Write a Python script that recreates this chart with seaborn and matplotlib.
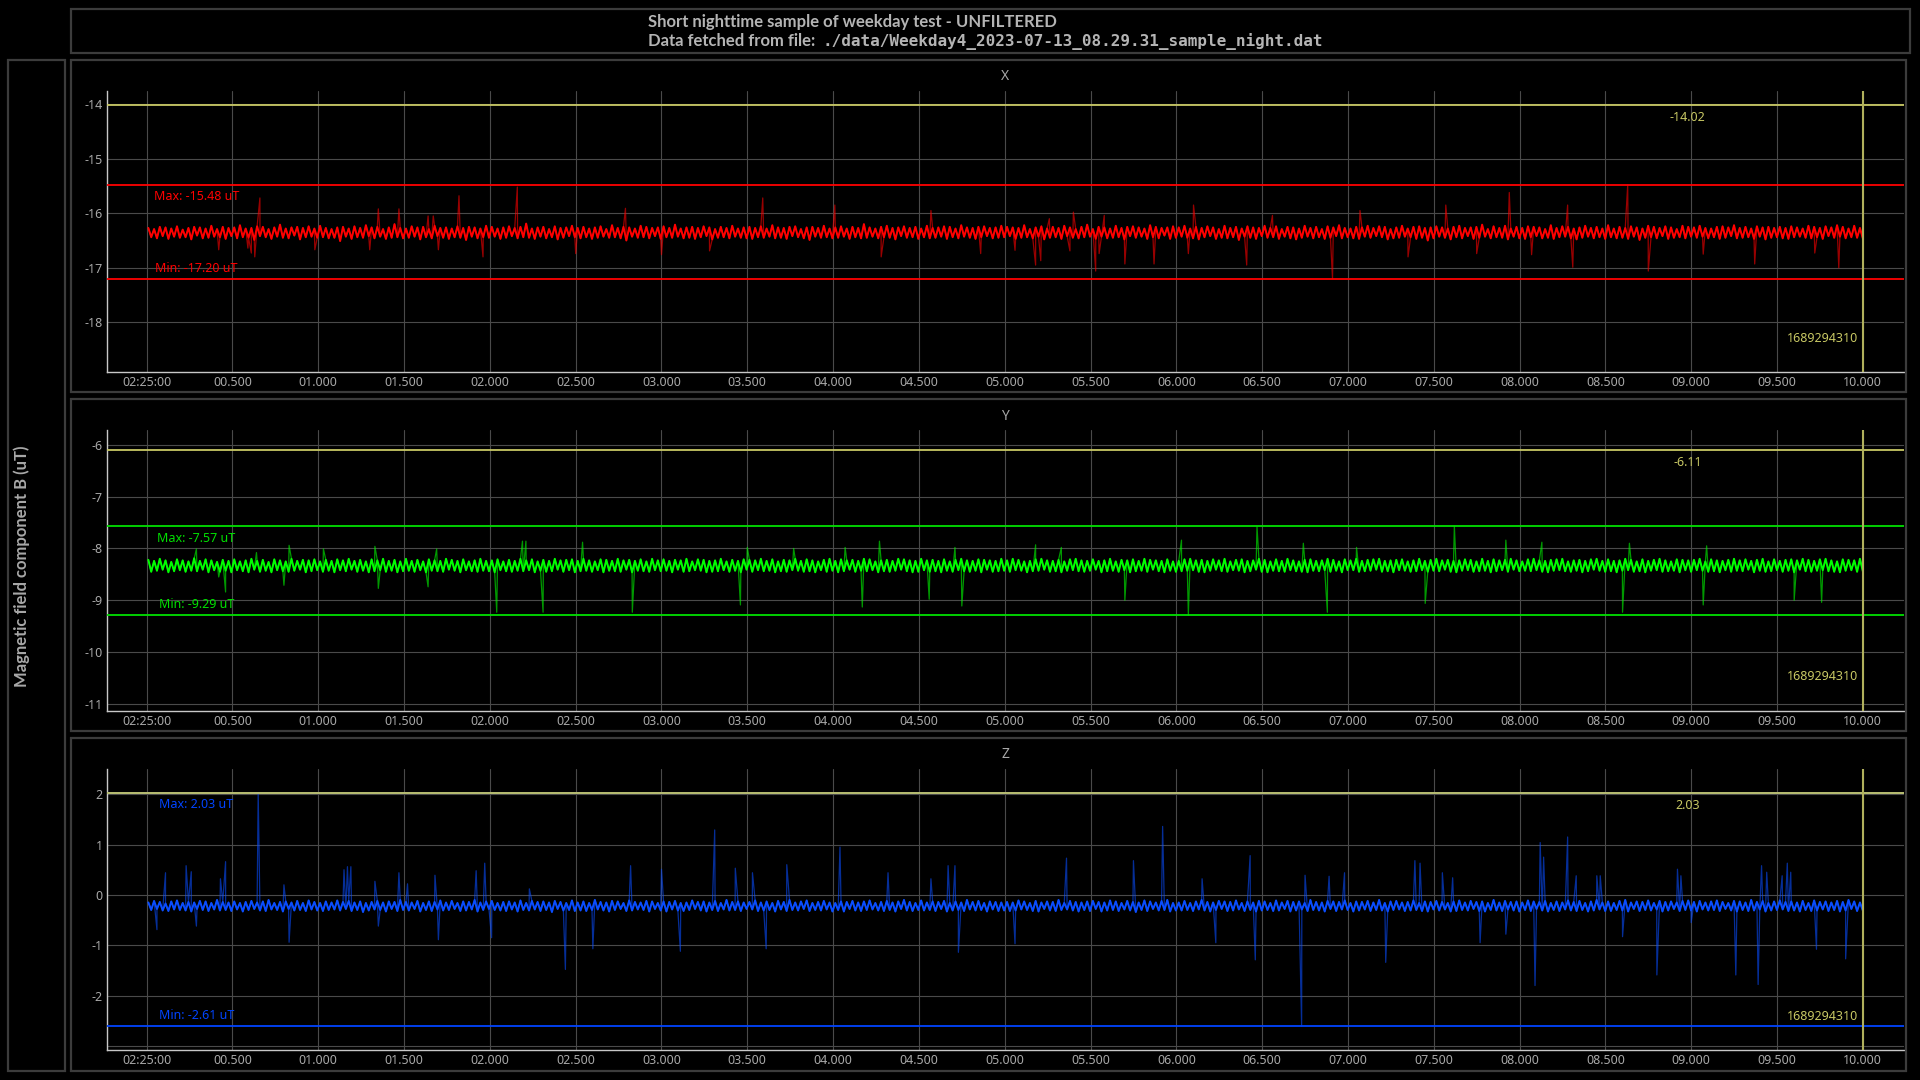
import numpy as np
import pandas as pd
import seaborn as sns
import matplotlib.pyplot as plt
import matplotlib.transforms as mtransforms
from matplotlib.patches import Rectangle

W, H = 1920, 1080

## values (noise in hundredths of uT around a base level)
x_base = -16.35
x_noise = [8,-9,6,-11,10,-7,9,-12,7,-8,11,-10,5,-9,8,-13,10,-6,9,-11,7,-10,12,-8,6,-9,10,-12,8,-7,
           9,-11,13,-9,7,-10,8,-14,11,-7,10,-9,6,-12,9,-8,14,-10,7,-11,9,-6,10,-13,8,-9,11,-8,7,-10,
           12,-9,8,-11,6,-10,9,-16,10,-8,7,-12,11,-9,8,-10,13,-7,9,-11,10,-8,6,-12,9,-10,15,-9,8,-11,
           7,-10,11,-8,9,-13,10,-9,6,-11,12,-7,8,-10,9,-12,7,-9,11,-10,8,-14,10,-8,9,-11,7,-9,12,-10,
           10,-8,7,-12,9,-10,11,-7,8,-11,10,-9,16,-10,7,-12,9,-8,10,-11,6,-9,11,-13,8,-10,9,-7,12,-9,
           8,-11,10,-9,7,-12,9,-10,11,-8,6,-10,13,-9,8,-11,10,-15,9,-8,7,-10,12,-9,10,-11,8,-7,9,-12,
           11,-9,8,-10,14,-8,7,-11,9,-10,10,-12,8,-9,11,-7,9,-13,6,-10,10,-9,8,-11,12,-8,7,-10,9,-11,
           10,-12,8,-9,11,-10,7,-8,13,-11,9,-10,8,-12,10,-7,11,-9,6,-11,9,-14,10,-8,8,-10,12,-9,7,-11,
           9,-10,11,-8,7,-12,10,-9,8,-11,15,-10,9,-8,7,-11,10,-9,12,-10,8,-13,9,-7,11,-10,8,-9,10,-12,
           7,-9,12,-11,8,-10,9,-8,11,-12,10,-9,7,-11,13,-8,9,-10,8,-12,10,-9,11,-7,8,-11,9,-10,12,-9,
           10,-7,9,-12,8,-10,13,-9,6,-11,9,-8,11,-13,7,-10,10,-9,8,-12,12,-7,9,-10,6,-11,10,-9,14,-8,
           6,-12,10,-8,9,-11,7,-10,12,-9,8,-13,10,-7,11,-10,9,-8,7,-12,13,-9,10,-11,8,-6,9,-12,11,-10,
           9,-8,12,-10,7,-11,10,-13,8,-9,11,-7,9,-12,6,-10,12,-11,8,-9,10,-14,7,-8,11,-10,9,-12,8,-7,
           12,-10,8,-9,11,-12,6,-8,10,-11,9,-13,7,-10,12,-8,8,-11,10,-9,6,-12,11,-10,9,-7,13,-11,8,-9,
           7,-11,10,-12,9,-8,12,-10,8,-7,11,-9,10,-13,6,-11,9,-10,12,-8,7,-9,10,-12,11,-10,8,-15,9,-11,
           11,-8,9,-10,7,-13,10,-9,12,-11,8,-7,9,-12,10,-10,14,-8,6,-11,11,-9,8,-10,12,-13,7,-8,10,-11,
           8,-12,11,-9,10,-7,9,-11,6,-10,13,-12,8,-9,11,-8,10,-11,7,-13,9,-10,12,-8,8,-11,10,-9,7,-12,
           13,-9,7,-11,10,-10,8,-12,11,-8,9,-14,7,-10,12,-9,10,-11,8,-7,11,-12,9,-10,6,-9,12,-11,10,-8,
           9,-10,12,-8,8,-11,7,-9,10,-12,11,-10,9,-7,13,-11,8,-10,10,-9,7,-12,11,-8,9,-13,10,-10,8,-9,
           10,-11,8,-12,11,-9,9,-8,7,-10,12,-11,10,-9,8,-12,11,-7,9,-10,13,-8,10,-11,7,-9,12,-10,8,-11]
x_spike_t = [0.42,0.59,0.61,0.63,0.66,0.98,1.30,1.35,1.47,1.64,1.67,1.70,1.82,1.96,2.16,
             2.50,2.79,3.00,3.28,3.59,4.01,4.28,4.57,4.86,5.06,5.18,5.21,5.26,5.38,5.40,
             5.53,5.55,5.58,5.70,5.87,6.07,6.10,6.41,6.56,6.91,7.07,7.35,7.57,7.75,7.94,
             8.07,8.28,8.31,8.63,8.75,9.07,9.37,9.72,9.86]
x_spike_v = [-16.67,-16.64,-16.73,-16.80,-15.72,-16.67,-16.67,-15.92,-15.92,-16.05,-16.05,-16.67,-15.68,-16.80,-15.52,
             -16.74,-15.91,-16.76,-16.69,-15.72,-15.85,-16.80,-15.95,-16.74,-16.68,-16.95,-16.87,-16.10,-16.69,-15.98,
             -17.06,-16.74,-16.04,-16.93,-16.93,-16.74,-15.85,-16.95,-16.04,-17.20,-15.95,-16.80,-15.85,-16.74,-15.62,
             -16.76,-15.85,-16.99,-15.48,-17.06,-16.75,-16.93,-16.73,-17.00]

y_base = -8.33
y_noise = [11,-12,9,-10,13,-8,10,-13,7,-11,12,-9,10,-12,8,-10,14,-11,9,-8,12,-13,10,-9,7,-12,11,-10,9,-13,
           12,-9,8,-11,10,-13,13,-8,9,-12,11,-10,7,-13,12,-9,10,-11,8,-12,13,-10,9,-8,11,-13,10,-11,12,-9,
           8,-12,11,-10,9,-13,12,-9,10,-11,13,-8,9,-12,11,-10,8,-13,12,-11,10,-9,13,-12,9,-10,11,-13,8,-11,
           13,-10,9,-12,11,-9,8,-13,12,-10,10,-11,9,-12,13,-8,11,-10,9,-13,12,-9,8,-11,10,-12,13,-10,9,-11,
           10,-13,12,-9,8,-11,11,-12,9,-10,13,-11,10,-9,12,-13,8,-10,11,-12,9,-11,13,-8,10,-12,11,-9,12,-13,
           9,-11,13,-10,10,-12,8,-9,12,-13,11,-10,9,-11,13,-12,10,-8,11,-13,9,-10,12,-11,8,-12,13,-9,10,-11,
           12,-10,9,-13,11,-8,10,-12,13,-11,8,-9,12,-10,11,-13,9,-12,10,-11,13,-9,8,-12,11,-10,9,-13,12,-8,
           11,-12,10,-9,13,-11,9,-10,12,-13,8,-11,11,-12,10,-9,13,-10,9,-12,12,-11,10,-13,8,-9,11,-12,13,-10,
           9,-13,12,-11,10,-8,11,-12,9,-10,13,-11,12,-9,8,-13,10,-11,11,-12,9,-10,13,-8,12,-11,10,-13,9,-12,
           13,-9,10,-12,11,-11,9,-13,12,-10,8,-12,11,-9,13,-11,10,-12,9,-10,12,-13,11,-8,10,-12,9,-11,13,-10,
           10,-12,13,-9,11,-10,8,-13,9,-11,12,-10,13,-8,10,-12,9,-11,11,-13,8,-10,12,-9,13,-11,10,-12,9,-10,
           12,-8,9,-13,10,-11,13,-10,8,-12,11,-9,10,-13,12,-11,9,-10,13,-12,11,-8,10,-11,9,-13,12,-10,8,-12,
           9,-11,12,-10,13,-9,10,-12,11,-13,9,-10,12,-8,10,-11,13,-12,8,-9,11,-10,12,-13,9,-11,10,-8,13,-12,
           11,-13,8,-10,12,-11,9,-12,13,-9,10,-11,8,-12,11,-13,12,-10,9,-11,10,-9,13,-12,11,-10,8,-13,12,-9,
           10,-9,13,-12,9,-11,11,-10,12,-8,13,-12,9,-11,10,-13,11,-9,12,-10,8,-12,10,-11,13,-9,9,-12,11,-10,
           13,-11,10,-8,11,-12,9,-13,10,-10,12,-9,11,-12,8,-11,13,-10,9,-13,12,-11,10,-9,11,-12,13,-8,10,-11,
           8,-10,12,-11,13,-9,10,-12,9,-13,11,-10,12,-9,13,-11,8,-12,10,-10,11,-13,9,-11,12,-8,13,-10,9,-12,
           12,-11,9,-13,10,-10,13,-9,11,-12,8,-11,12,-13,9,-10,11,-9,13,-12,10,-11,8,-10,12,-13,11,-9,10,-12,
           11,-9,13,-10,8,-12,12,-11,10,-13,9,-9,11,-12,13,-10,10,-11,12,-8,9,-13,11,-10,13,-12,8,-11,12,-9,
           9,-12,11,-10,12,-13,10,-8,13,-11,11,-12,9,-10,12,-9,13,-11,10,-12,8,-13,12,-10,11,-9,10,-12,13,-11]
y_spike_t = [0.29,0.42,0.46,0.64,0.80,0.83,1.03,1.33,1.35,1.64,1.69,2.04,2.19,2.21,2.31,
             2.54,2.83,3.46,3.50,3.77,4.07,4.17,4.27,4.56,4.71,4.75,5.18,5.33,5.70,6.03,
             6.07,6.47,6.74,6.88,7.05,7.45,7.62,7.92,8.13,8.60,8.64,9.07,9.09,9.60,9.76]
y_spike_v = [-8.01,-8.55,-8.84,-8.08,-8.71,-7.94,-8.01,-7.96,-8.77,-8.74,-8.01,-9.23,-7.86,-7.86,-9.23,
             -7.88,-9.23,-9.09,-7.98,-8.00,-7.98,-9.13,-7.86,-8.98,-7.98,-9.11,-7.93,-7.98,-9.00,-7.84,
             -9.29,-7.58,-7.90,-9.23,-7.98,-9.06,-7.57,-7.84,-7.88,-9.23,-7.90,-9.09,-7.95,-9.00,-9.04]

z_base = -0.22
z_noise = [7,-8,10,-6,8,-9,5,-10,9,-7,11,-8,6,-9,8,-11,7,-6,10,-8,9,-10,6,-7,12,-9,8,-8,7,-10,
           9,-7,6,-11,8,-8,10,-6,7,-9,9,-10,12,-7,6,-8,8,-11,9,-6,7,-9,10,-8,6,-10,11,-7,8,-9,
           6,-10,9,-8,7,-7,11,-9,8,-6,10,-10,7,-8,9,-12,6,-9,8,-7,10,-8,7,-11,9,-6,8,-10,12,-8,
           8,-9,7,-6,10,-11,6,-8,9,-10,8,-7,11,-9,7,-8,10,-6,6,-10,9,-9,8,-7,12,-11,7,-8,9,-6,
           10,-8,6,-9,8,-10,9,-7,7,-11,11,-8,6,-9,10,-7,8,-10,9,-8,7,-12,10,-6,8,-9,6,-8,11,-10,
           7,-9,9,-10,6,-8,12,-7,8,-9,7,-11,10,-8,9,-6,6,-10,11,-9,8,-7,7,-8,10,-11,9,-6,6,-9,
           9,-11,8,-7,10,-9,6,-10,7,-8,11,-6,8,-9,9,-11,7,-8,10,-10,6,-7,12,-9,8,-8,9,-10,7,-6,
           8,-7,11,-10,7,-9,9,-8,6,-11,10,-7,8,-10,12,-8,7,-9,9,-6,11,-10,6,-8,8,-9,10,-7,7,-11,
           6,-8,9,-11,8,-6,10,-9,7,-10,9,-8,11,-7,6,-9,8,-10,10,-8,7,-11,9,-6,12,-9,8,-10,6,-8,
           11,-9,7,-8,9,-10,8,-6,10,-11,6,-9,9,-8,7,-10,12,-7,8,-9,10,-8,6,-11,9,-7,8,-10,7,-9,
           8,-10,7,-9,11,-7,9,-8,6,-10,10,-11,7,-6,9,-9,8,-10,12,-8,6,-7,10,-9,8,-11,7,-8,9,-10,
           10,-6,8,-11,7,-9,11,-8,9,-10,6,-7,10,-9,8,-12,7,-8,11,-10,9,-6,7,-9,10,-8,12,-11,6,-9,
           7,-9,10,-8,6,-10,9,-7,12,-9,8,-11,7,-8,10,-6,9,-10,8,-9,11,-7,6,-10,9,-8,7,-11,10,-9,
           9,-8,6,-10,11,-9,7,-6,10,-11,8,-9,9,-7,6,-10,12,-8,8,-9,7,-11,10,-6,9,-10,8,-7,11,-8,
           6,-11,9,-9,8,-7,10,-10,7,-8,12,-9,6,-11,9,-8,10,-7,7,-10,8,-9,11,-8,6,-10,9,-11,8,-7,
           10,-9,8,-7,6,-11,9,-10,11,-8,7,-9,10,-6,8,-10,9,-11,6,-8,12,-9,7,-10,10,-7,8,-9,9,-11,
           7,-8,11,-10,9,-6,8,-9,10,-11,6,-8,9,-10,7,-7,11,-9,8,-10,10,-8,6,-11,9,-9,12,-7,7,-10,
           9,-10,6,-8,10,-9,12,-11,7,-6,9,-10,8,-8,11,-9,6,-7,10,-11,8,-9,9,-6,7,-10,10,-8,11,-9,
           8,-11,10,-7,7,-9,9,-8,11,-10,8,-6,6,-9,10,-11,9,-8,7,-10,12,-9,8,-7,10,-11,6,-9,9,-8,
           11,-7,8,-10,9,-9,7,-11,10,-8,6,-10,11,-9,8,-7,9,-10,7,-8,10,-11,8,-9,12,-6,9,-10,7,-9]
z_spike_t = [0.11,0.23,0.26,0.43,0.46,0.65,0.80,1.15,1.17,1.19,1.33,1.47,1.52,1.68,1.92,1.97,2.23,
             2.82,3.00,3.31,3.43,3.53,3.73,4.04,4.32,4.57,4.67,4.71,5.36,5.75,5.92,6.15,6.43,
             6.75,6.89,6.98,7.39,7.42,7.55,7.61,8.12,8.14,8.28,8.33,8.45,8.47,8.92,8.94,9.41,
             9.44,9.53,9.56,9.58,
             0.06,0.29,0.83,1.35,1.70,2.01,2.44,2.60,3.11,3.61,4.73,5.06,6.23,6.46,6.73,7.22,
             7.77,7.92,8.09,8.60,8.80,9.00,9.26,9.39,9.73,9.90]
z_spike_v = [0.44,0.58,0.46,0.32,0.66,2.03,0.20,0.50,0.56,0.56,0.27,0.44,0.22,0.39,0.48,0.63,0.12,
             0.58,0.51,1.29,0.53,0.44,0.60,0.95,0.44,0.32,0.58,0.58,0.73,0.68,1.36,0.32,0.78,
             0.39,0.37,0.44,0.68,0.63,0.44,0.34,1.04,0.75,1.15,0.38,0.38,0.38,0.51,0.38,0.58,
             0.45,0.38,0.63,0.45,
             -0.69,-0.62,-0.94,-0.62,-0.89,-0.85,-1.48,-1.07,-1.12,-1.07,-1.14,-0.97,-0.95,-1.29,-2.61,-1.34,
             -0.95,-0.78,-1.80,-0.83,-1.59,-0.55,-1.59,-1.78,-1.08,-1.27]

x_max, x_min, x_mark = -15.48, -17.20, -14.02
y_max, y_min, y_mark = -7.57, -9.29, -6.11
z_max, z_min, z_mark = 2.03, -2.61, 2.03
stamp = '1689294310'
xtick_labels = ['02:25:00', '00.500', '01.000', '01.500', '02.000', '02.500', '03.000', '03.500',
                '04.000', '04.500', '05.000', '05.500', '06.000', '06.500', '07.000', '07.500',
                '08.000', '08.500', '09.000', '09.500', '10.000']

title1 = 'Short nighttime sample of weekday test - UNFILTERED'
title2a = 'Data fetched from file: '
title2b = './data/Weekday4_2023-07-13_08.29.31_sample_night.dat'

# colours
yel = '#c8c864'
frame_c = '#3c3c3c'
txt_c = '#a8a8a8'

sns.set_theme(style='dark', rc={'figure.facecolor': 'black', 'axes.facecolor': 'black'})
plt.rcParams['font.family'] = ['Noto Sans', 'DejaVu Sans']


def build(base, noise, st, sv):
    t = np.linspace(0.01, 10.0, len(noise))
    v = base + np.array(noise) / 100.0
    band = pd.DataFrame({'t': t, 'v': v})
    full = pd.DataFrame({'t': np.concatenate([t, st]), 'v': np.concatenate([v, sv])})
    return full.sort_values('t').reset_index(drop=True), band


fig = plt.figure(figsize=(W / 100, H / 100), dpi=100)


def box(x0, y0, x1, y1):
    fig.add_artist(Rectangle((x0 / W, 1 - y1 / H), (x1 - x0) / W, (y1 - y0) / H,
                             transform=fig.transFigure, fill=False, ec=frame_c, lw=1.6))


box(71, 9, 1910, 53)
box(8, 60, 65, 1071)
box(71, 60, 1906, 392)
box(71, 399, 1906, 731)
box(71, 738, 1906, 1071)

fig.text(648 / W, 1 - 22 / H, title1, ha='left', va='center', color='#b4b4b4',
         fontsize=12, fontweight='bold', family=['Lato', 'DejaVu Sans'])
fig.text(648 / W, 1 - 41 / H, title2a, ha='left', va='center', color='#b4b4b4',
         fontsize=12, fontweight='bold', family=['Lato', 'DejaVu Sans'])
fig.text(822 / W, 1 - 41 / H, title2b, ha='left', va='center', color='#b4b4b4',
         fontsize=11.5, fontweight='bold', family='DejaVu Sans Mono')

fig.text(22 / W, 1 - 566 / H, 'Magnetic field component B (uT)', rotation=90,
         ha='center', va='center', color=txt_c, fontsize=12, fontweight='bold',
         family=['Lato', 'DejaVu Sans'])


def panel(top, name, data, col, line_col, ylim, yticks, ylabels, vmax, vmin, mark, pxu):
    full, band = data
    ax = fig.add_axes([107 / W, 1 - (top + 281) / H, 1797 / W, 281 / H])
    ax.set_facecolor('black')
    # thin dim trace with the spikes, bright dense band on top
    sns.lineplot(data=full, x='t', y='v', ax=ax, color=col, lw=0.9, alpha=0.6,
                 estimator=None, sort=False, zorder=3)
    sns.lineplot(data=band, x='t', y='v', ax=ax, color=col, lw=1.4, alpha=1.0,
                 estimator=None, sort=False, zorder=3)
    ax.set_xlim(-0.231, 10.24)
    ax.set_ylim(*ylim)
    ax.set_xticks(np.arange(0, 10.01, 0.5))
    ax.set_xticklabels(xtick_labels)
    ax.set_yticks(yticks)
    ax.set_yticklabels(ylabels)
    ax.set_xlabel('')
    ax.set_ylabel('')
    ax.grid(True, color='#4a4a4a', lw=0.8)
    ax.tick_params(colors=txt_c, labelsize=9, length=0, pad=3)
    for s in ['top', 'right']:
        ax.spines[s].set_visible(False)
    for s in ['left', 'bottom']:
        ax.spines[s].set_visible(True)
        ax.spines[s].set_color('#c8c8c8')
        ax.spines[s].set_linewidth(1.0)

    ax.axhline(vmax, color=line_col, lw=1.3, zorder=4)
    ax.axhline(vmin, color=line_col, lw=1.3, zorder=4)
    ax.axhline(mark, color=yel, lw=1.3, zorder=5)
    ax.axvline(10.0, color='#b0b05c', lw=1.5, zorder=5)

    ax.annotate(f'Max: {vmax:.2f} uT', xy=(0.29, vmax - 12 / pxu), ha='center', va='center',
                color=line_col, fontsize=9, zorder=6)
    ax.annotate(f'Min: {vmin:.2f} uT', xy=(0.29, vmin + 10.6 / pxu), ha='center', va='center',
                color=line_col, fontsize=9, zorder=6)
    ax.annotate(f'{mark:.2f}', xy=(8.98, mark - 12.5 / pxu), ha='center', va='center',
                color=yel, fontsize=9, zorder=6)
    tr = mtransforms.blended_transform_factory(ax.transData, ax.transAxes)
    ax.text(9.975, 34 / 281, stamp, transform=tr, ha='right', va='center', color=yel,
            fontsize=9, zorder=6)
    fig.text(1005 / W, 1 - (top - 14) / H, name, ha='center', va='center', color=txt_c, fontsize=10)
    return ax


panel(91, 'X', build(x_base, x_noise, x_spike_t, x_spike_v), '#ff0000', '#ff0000',
      (-18.91, -13.76), [-18, -17, -16, -15, -14], ['-18', '-17', '-16', '-15', '-14'],
      x_max, x_min, x_mark, 54.5)
panel(430, 'Y', build(y_base, y_noise, y_spike_t, y_spike_v), '#00ff00', '#00e000',
      (-11.135, -5.716), [-11, -10, -9, -8, -7, -6], ['-11', '-10', '-9', '-8', '-7', '-6'],
      y_max, y_min, y_mark, 51.8)
panel(769, 'Z', build(z_base, z_noise, z_spike_t, z_spike_v), '#0a4dff', '#0044ff',
      (-3.08, 2.50), [-3, -2, -1, 0, 1, 2], ['', '-2', '-1', '0', '1', '2'],
      z_max, z_min, z_mark, 50.4)

fig.savefig('out.png', dpi=100, facecolor='black')
